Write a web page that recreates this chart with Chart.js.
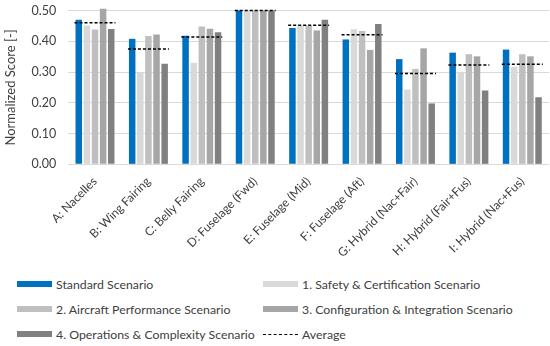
<!DOCTYPE html>
<html>
<head>
<meta charset="utf-8">
<script src="https://cdn.jsdelivr.net/npm/chart.js@4.4.1/dist/chart.umd.min.js"></script>
<style>
  body { margin: 0; background: #fff; font-family: Lato, sans-serif; overflow: hidden; }
  #wrap { position: relative; width: 550px; height: 346px; overflow: hidden; }
  #myChart { position: absolute; left: 0; top: -9px; }
  #legend { position: absolute; left: 17px; top: 275px; width: 530px; display: grid;
    grid-template-columns: 246px 284px; row-gap: 7px; font-size: 12.3px; color: #404040; }
  .item { display: flex; align-items: center; height: 18px; white-space: nowrap; }
  .box { width: 35px; height: 6px; margin-right: 4px; flex: none; }
  .dash { width: 35px; height: 0; border-top: 1.5px dashed #000; margin-right: 4px; flex: none; }
</style>
</head>
<body>
<div id="wrap">
  <canvas id="myChart" width="550" height="271"></canvas>
  <div id="legend"></div>
</div>
<script>
'use strict'

const categories = ['A: Nacelles', 'B: Wing Fairing', 'C: Belly Fairing', 'D: Fuselage (Fwd)',
  'E: Fuselage (Mid)', 'F: Fuselage (Aft)', 'G: Hybrid (Nac+Fair)', 'H: Hybrid (Fair+Fus)', 'I: Hybrid (Nac+Fus)'];

const standard   = [0.470, 0.408, 0.418, 0.500, 0.443, 0.406, 0.342, 0.363, 0.373];
const safety     = [0.451, 0.299, 0.330, 0.500, 0.451, 0.439, 0.243, 0.301, 0.317];
const performance = [0.438, 0.417, 0.448, 0.500, 0.451, 0.433, 0.310, 0.358, 0.358];
const integration = [0.506, 0.422, 0.441, 0.500, 0.435, 0.372, 0.377, 0.351, 0.351];
const operations = [0.440, 0.327, 0.429, 0.500, 0.470, 0.456, 0.198, 0.240, 0.218];
const average    = [0.460, 0.375, 0.414, 0.500, 0.452, 0.421, 0.295, 0.323, 0.325];

const yTicks = [0, 0.1, 0.2, 0.3, 0.4, 0.5];

const barSeries = [
  { label: 'Standard Scenario', data: standard, color: '#0070C0' },
  { label: '1. Safety & Certification Scenario', data: safety, color: '#D9D9D9' },
  { label: '2. Aircraft Performance Scenario', data: performance, color: '#BFBFBF' },
  { label: '3. Configuration & Integration Scenario', data: integration, color: '#A6A6A6' },
  { label: '4. Operations & Complexity Scenario', data: operations, color: '#808080' },
];

// dashed average line over each group of bars
const avgDashes = {
  id: 'avgDashes',
  afterDatasetsDraw(chart) {
    const ctx = chart.ctx;
    const y = chart.scales.y;
    const first = chart.getDatasetMeta(0).data;
    const last = chart.getDatasetMeta(barSeries.length - 1).data;
    ctx.save();
    ctx.strokeStyle = '#000';
    ctx.lineWidth = 1.5;
    ctx.setLineDash([3, 2]);
    for (let i = 0; i < average.length; i++) {
      const x0 = first[i].x - first[i].width / 2 - 1;
      const x1 = last[i].x + last[i].width / 2 + 1;
      const py = y.getPixelForValue(average[i]);
      ctx.beginPath();
      ctx.moveTo(x0, py);
      ctx.lineTo(x1, py);
      ctx.stroke();
    }
    ctx.restore();
  }
};

function createChart() {
  const ctx = document.getElementById('myChart').getContext('2d');
  Chart.defaults.font.family = 'Lato, sans-serif';
  Chart.defaults.color = '#404040';

  const datasets = barSeries.map(s => ({
    label: s.label,
    data: s.data,
    backgroundColor: s.color,
    categoryPercentage: 0.76,
    barPercentage: 0.8,
    clip: false,
  }));

  new Chart(ctx, {
    type: 'bar',
    data: { labels: categories, datasets: datasets },
    options: {
      responsive: false,
      animation: false,
      layout: { padding: { top: 0, right: 1, left: 2 } },
      plugins: { legend: { display: false }, tooltip: { enabled: false } },
      scales: {
        x: {
          grid: { display: false },
          border: { display: false },
          ticks: { minRotation: 45, maxRotation: 45, font: { size: 12 }, padding: 2 },
        },
        y: {
          min: 0,
          max: 0.5,
          afterBuildTicks: axis => { axis.ticks = yTicks.map(v => ({ value: v })); },
          grid: { color: '#D9D9D9', drawTicks: false },
          border: { display: false },
          ticks: { font: { size: 12.5 }, padding: 12, callback: v => v.toFixed(2) },
          title: { display: true, text: 'Normalized Score [-]', font: { size: 13 }, padding: 1 },
        },
      },
    },
    plugins: [avgDashes],
  });

  // legend, two columns in row order
  const legend = document.getElementById('legend');
  const items = barSeries.map(s => '<div class="item"><span class="box" style="background:' + s.color + '"></span>' + s.label + '</div>');
  items.push('<div class="item"><span class="dash"></span>Average</div>');
  legend.innerHTML = items.join('');
}

createChart();
</script>
</body>
</html>
